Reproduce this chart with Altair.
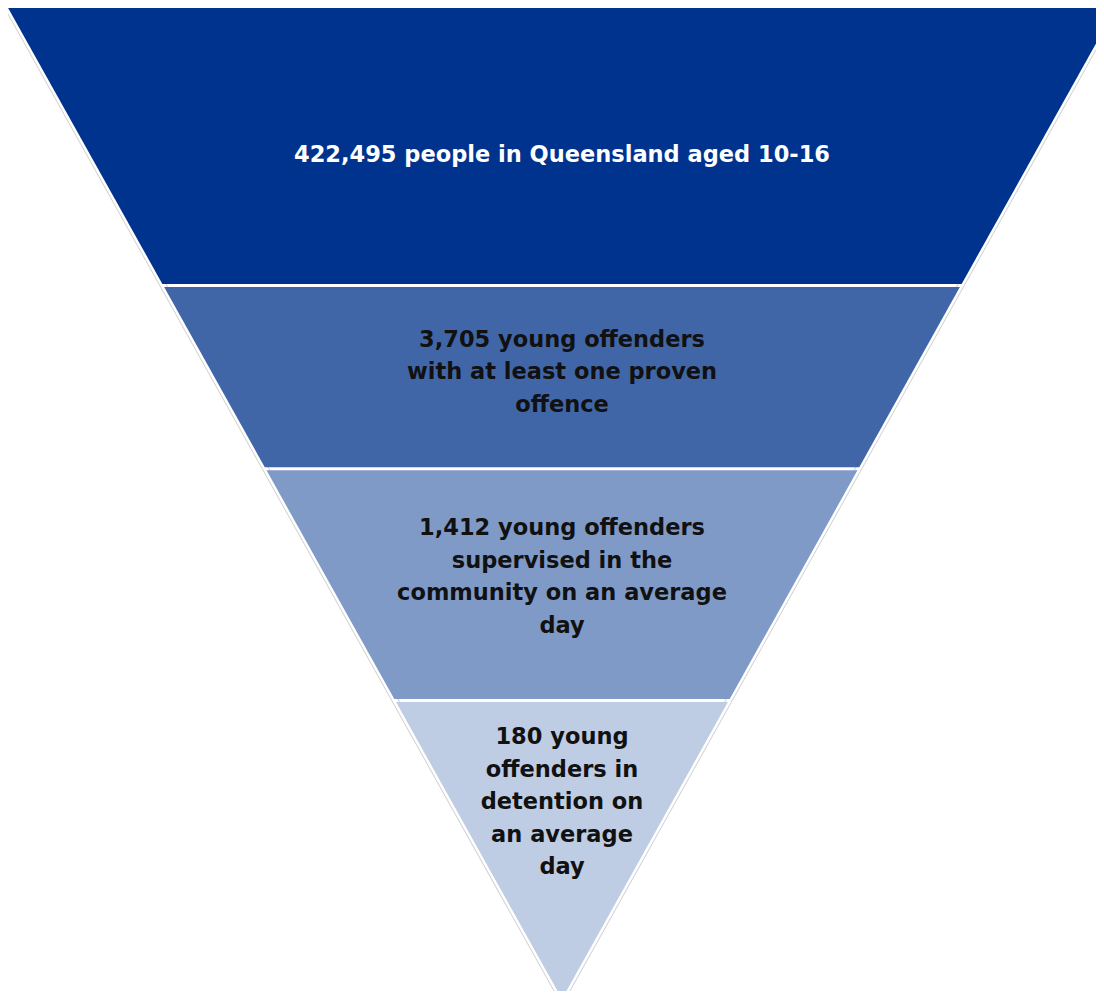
import altair as alt
import pandas as pd

# ---- data -------------------------------------------------------------
band_names = ["Population 10-16", "Proven offence", "Community supervision", "Detention"]
band_labels = [
    "422,495 people in Queensland aged 10-16",
    "3,705 young offenders\nwith at least one proven\noffence",
    "1,412 young offenders\nsupervised in the\ncommunity on an average\nday",
    "180 young\noffenders in\ndetention on\nan average\nday",
]
# band boundaries in funnel-height units (1 = top of funnel, 0 = apex)
band_top = [1.0, 0.7185, 0.534, 0.3006]
band_bottom = [0.7185, 0.534, 0.3006, 0.0]

# ---- styling / layout -------------------------------------------------
band_colors = ["#00338D", "#4166A8", "#809AC8", "#BECCE4"]
text_colors = ["#FFFFFF", "#111111", "#111111", "#111111"]
label_y = [0.850, 0.6637, 0.4743, 0.2638]  # first-line position of each label
gap = 0.0016  # half of the white gap between bands

rows = []
for name, top, bot in zip(band_names, band_top, band_bottom):
    t = top - gap if top < 1.0 else top
    b = bot + gap if bot > 0 else bot
    rows.append({"band": name, "y": t, "xl": -t, "xr": t})
    rows.append({"band": name, "y": b, "xl": -b, "xr": b})
bands_df = pd.DataFrame(rows)

labels_df = pd.DataFrame({
    "band": band_names,
    "label": band_labels,
    "y": label_y,
    "x": [0.0] * len(band_names),
    "tc": text_colors,
})

outline_df = pd.DataFrame({"x": [-1.0, 0.0, 1.0], "y": [1.0, 0.0, 1.0]})

xs = alt.Scale(domain=[-1, 1], range=[-1, 1109])
ys = alt.Scale(domain=[0, 1], range=[991, -2])

outline_gray = alt.Chart(outline_df).mark_line(
    color="#d2d2d2", strokeWidth=7, clip=False, strokeJoin="miter"
).encode(
    x=alt.X("x:Q", scale=xs, axis=None),
    y=alt.Y("y:Q", scale=ys, axis=None),
)
outline_white = alt.Chart(outline_df).mark_line(
    color="#ffffff", strokeWidth=5, clip=False, strokeJoin="miter"
).encode(
    x=alt.X("x:Q", scale=xs, axis=None),
    y=alt.Y("y:Q", scale=ys, axis=None),
)

areas = alt.Chart(bands_df).mark_area(orient="horizontal", clip=False).encode(
    y=alt.Y("y:Q", scale=ys, axis=None),
    x=alt.X("xl:Q", scale=xs, axis=None),
    x2="xr:Q",
    color=alt.Color("band:N", scale=alt.Scale(domain=band_names, range=band_colors), legend=None),
)

texts = alt.Chart(labels_df).mark_text(
    font="DejaVu Sans", fontWeight="bold", fontSize=22.5, lineBreak="\n",
    lineHeight=32.5, align="center", baseline="middle",
).encode(
    x=alt.X("x:Q", scale=xs, axis=None),
    y=alt.Y("y:Q", scale=ys, axis=None),
    text="label:N",
    color=alt.Color("tc:N", scale=None),
)

chart = alt.layer(outline_gray, outline_white, areas, texts).properties(
    width=1088, height=983, padding=0, background="#ffffff",
    autosize=alt.AutoSizeParams(type="none"),
).configure_view(stroke=None)

chart.save("out.html", embed_options={"renderer": "svg", "actions": False})
